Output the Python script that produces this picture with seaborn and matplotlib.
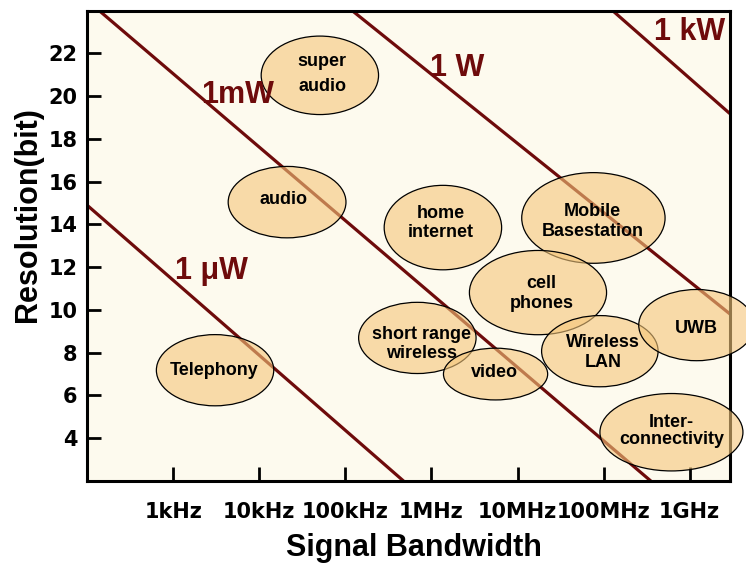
import matplotlib
matplotlib.use("Agg")
import matplotlib.pyplot as plt
import seaborn as sns
import pandas as pd
from matplotlib.patches import Ellipse
from matplotlib.colors import to_rgba

# power lines: end points (x = log10 of bandwidth in Hz, y = bits)
power_labels = ["1 μW", "1mW", "1 W", "1 kW"]
line_x0 = [2.0, 2.137, 5.077, 8.104]
line_y0 = [14.89, 24.0, 24.0, 24.0]
line_x1 = [5.675, 8.549, 9.469, 9.465]
line_y1 = [2.0, 2.0, 9.81, 19.19]
power_lx = [3.444, 3.746, 6.298, 9.0]
power_ly = [11.84, 20.05, 21.33, 23.0]

# application bubbles
apps = ["super\naudio", "audio", "home\ninternet", "Mobile\nBasestation",
        "cell\nphones", "short range\nwireless", "video", "Wireless\nLAN",
        "UWB", "Inter-\nconnectivity", "Telephony"]
app_x = [4.703, 4.322, 6.133, 7.882, 7.238, 5.836, 6.745, 7.957, 9.082, 8.789, 3.485]
app_y = [20.97, 15.04, 13.85, 14.30, 10.81, 8.69, 7.00, 8.07, 9.29, 4.28, 7.18]
app_w = [1.364, 1.369, 1.365, 1.666, 1.594, 1.365, 1.211, 1.354, 1.346, 1.662, 1.364]
app_h = [3.67, 3.34, 3.95, 4.24, 3.94, 3.33, 2.42, 3.33, 3.33, 3.62, 3.33]
text_x = [4.729, 4.283, 6.113, 7.872, 7.281, 5.889, 6.727, 7.995, 9.079, 8.789, 3.479]
text_y = [21.02, 15.17, 14.07, 14.14, 10.77, 8.40, 7.06, 8.01, 9.15, 4.32, 7.15]
text_ls = [1.6, 1.2, 1.2, 1.2, 1.2, 1.2, 1.2, 1.2, 1.2, 1.0, 1.2]

tick_pos = [3, 4, 5, 6, 7, 8, 9]
tick_labels = ["1kHz", "10kHz", "100kHz", "1MHz", "10MHz", "100MHz", "1GHz"]
ytick_pos = [4, 6, 8, 10, 12, 14, 16, 18, 20, 22]

sns.set_style("ticks")
plt.rcParams["font.family"] = ["Liberation Sans", "DejaVu Sans"]
plt.rcParams["text.color"] = "black"
plt.rcParams["axes.labelcolor"] = "black"
plt.rcParams["xtick.color"] = "black"
plt.rcParams["ytick.color"] = "black"

line_color = "#6E0B0B"

rows = []
for name, xa, ya, xb, yb in zip(power_labels, line_x0, line_y0, line_x1, line_y1):
    rows.append({"power": name, "bw": xa, "bits": ya})
    rows.append({"power": name, "bw": xb, "bits": yb})
lines = pd.DataFrame(rows)

fig = plt.figure(figsize=(7.46, 5.66), dpi=100)
ax = fig.add_axes([0.117, 0.1502, 0.8616, 0.8312])
ax.set_facecolor("#FDFAEE")

sns.lineplot(data=lines, x="bw", y="bits", hue="power", palette=[line_color] * 4,
             estimator=None, sort=False, legend=False, linewidth=2.3, ax=ax, zorder=2)

for name, lx, ly in zip(power_labels, power_lx, power_ly):
    ax.text(lx, ly, name, color=line_color, fontsize=22, fontweight="bold",
            ha="center", va="center", zorder=5)

fill = to_rgba("#F5C67A", 0.6)
for i in range(len(apps)):
    e = Ellipse((app_x[i], app_y[i]), app_w[i], app_h[i], facecolor=fill,
                edgecolor="black", linewidth=0.9, zorder=3, clip_on=False)
    ax.add_patch(e)
    ax.text(text_x[i], text_y[i], apps[i], fontsize=13, fontweight="bold", color="black",
            ha="center", va="center", linespacing=text_ls[i], zorder=4)

ax.set_xlim(2.0, 9.47)
ax.set_ylim(2, 24)
ax.set_xticks(tick_pos)
ax.set_xticklabels(tick_labels, family="DejaVu Sans", fontweight="bold", fontsize=15)
ax.set_yticks(ytick_pos)
ax.set_yticklabels([str(v) for v in ytick_pos], family="DejaVu Sans",
                   fontweight="bold", fontsize=15)
ax.tick_params(axis="both", direction="in", length=10, width=2, color="black",
               labelcolor="black")
ax.tick_params(axis="x", pad=15)
ax.tick_params(axis="y", pad=7)

for sp in ax.spines.values():
    sp.set_visible(True)
    sp.set_linewidth(2.2)
    sp.set_color("black")

ax.set_xlabel("Signal Bandwidth", fontsize=22, fontweight="bold", va="center")
ax.set_ylabel("Resolution(bit)", fontsize=22, fontweight="bold", va="center")
ax.xaxis.set_label_coords(0.508, -0.142)
ax.yaxis.set_label_coords(-0.0923, 0.567)

fig.savefig("out.png", dpi=100)
